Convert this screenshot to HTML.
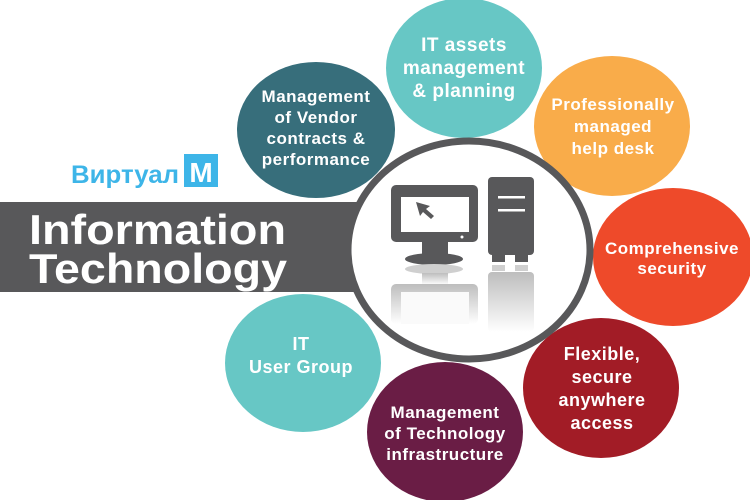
<!DOCTYPE html>
<html><head><meta charset="utf-8"><style>
html,body{margin:0;padding:0;background:#fff}
svg{display:block}
text{font-family:"Liberation Sans",sans-serif;font-weight:bold;fill:#fff;text-anchor:middle}
</style></head><body>
<svg width="750" height="500" viewBox="0 0 750 500" xmlns="http://www.w3.org/2000/svg">
<defs>
<linearGradient id="rf" x1="0" y1="0" x2="0" y2="1">
<stop offset="0" stop-color="#bdbdbd"/><stop offset="1" stop-color="#fff"/>
</linearGradient>
</defs>
<rect x="0" y="202" width="420" height="90" fill="#58585a"/>
<text x="29" y="244" textLength="257" lengthAdjust="spacingAndGlyphs" style="text-anchor:start;font-size:42px">Information</text>
<text x="29" y="283" textLength="258" lengthAdjust="spacingAndGlyphs" style="text-anchor:start;font-size:42px">Technology</text>
<text x="71" y="183" textLength="108" lengthAdjust="spacingAndGlyphs" style="text-anchor:start;font-size:25px;fill:#3db5e8">Виртуал</text>
<rect x="184" y="154" width="34" height="33" fill="#3db5e8"/>
<text x="201" y="182" style="font-size:28px">M</text>

<ellipse cx="316" cy="130" rx="79" ry="68" fill="#376e7b"/>
<ellipse cx="464" cy="68" rx="78" ry="70" fill="#67c7c5"/>
<ellipse cx="612" cy="126" rx="78" ry="70" fill="#f9ac4a"/>
<ellipse cx="673" cy="257" rx="80" ry="69" fill="#ee4a2a"/>
<ellipse cx="601" cy="388" rx="78" ry="70" fill="#a21c26"/>
<ellipse cx="303" cy="363" rx="78" ry="69" fill="#67c7c5"/>

<ellipse cx="469" cy="250" rx="121" ry="109" fill="#fff" stroke="#58585a" stroke-width="7"/>
<ellipse cx="445" cy="432" rx="78" ry="70" fill="#6a1d45"/>

<rect x="391" y="185" width="87" height="57" rx="5" fill="#58585a"/>
<rect x="401" y="197" width="68" height="35" fill="#fff"/>
<path d="M416 202 L430 206 L426 209 L434 216 L431 219 L423 212 L420 216 Z" fill="#58585a"/>
<circle cx="462" cy="237" r="1.5" fill="#fff"/>
<rect x="422" y="242" width="26" height="13" fill="#58585a"/>
<ellipse cx="434" cy="259" rx="29" ry="6" fill="#58585a"/>
<rect x="488" y="177" width="46" height="78" rx="4" fill="#58585a"/>
<rect x="498" y="196" width="27" height="2.5" fill="#fff"/>
<rect x="498" y="209" width="27" height="2.5" fill="#fff"/>
<rect x="492" y="255" width="13" height="7" fill="#58585a"/>
<rect x="515" y="255" width="13" height="7" fill="#58585a"/>
<ellipse cx="434" cy="269" rx="29" ry="5" fill="#cfcfcf"/>
<rect x="422" y="273" width="26" height="12" fill="url(#rf)"/>
<rect x="391" y="284" width="87" height="40" rx="5" fill="url(#rf)"/>
<rect x="401" y="292" width="68" height="32" fill="#fafafa"/>
<rect x="492" y="265" width="13" height="6" fill="#cfcfcf"/>
<rect x="515" y="265" width="13" height="6" fill="#cfcfcf"/>
<rect x="488" y="272" width="46" height="60" rx="4" fill="url(#rf)"/>

<g style="font-size:17px;letter-spacing:0.5px">
<text x="316" y="102">Management</text>
<text x="316" y="123">of Vendor</text>
<text x="316" y="144">contracts &amp;</text>
<text x="316" y="165">performance</text>

<text x="464" y="51" style="font-size:19px">IT assets</text>
<text x="464" y="74" style="font-size:19px">management</text>
<text x="464" y="97" style="font-size:19px">&amp; planning</text>

<text x="613" y="110">Professionally</text>
<text x="613" y="132">managed</text>
<text x="613" y="154">help desk</text>

<text x="672" y="254">Comprehensive</text>
<text x="672" y="274">security</text>

<text x="602" y="360" style="font-size:18px">Flexible,</text>
<text x="602" y="383" style="font-size:18px">secure</text>
<text x="602" y="406" style="font-size:18px">anywhere</text>
<text x="602" y="429" style="font-size:18px">access</text>

<text x="301" y="350" style="font-size:18px">IT</text>
<text x="301" y="373" style="font-size:18px">User Group</text>

<text x="445" y="418">Management</text>
<text x="445" y="439">of Technology</text>
<text x="445" y="460">infrastructure</text>
</g>
</svg>
</body></html>
